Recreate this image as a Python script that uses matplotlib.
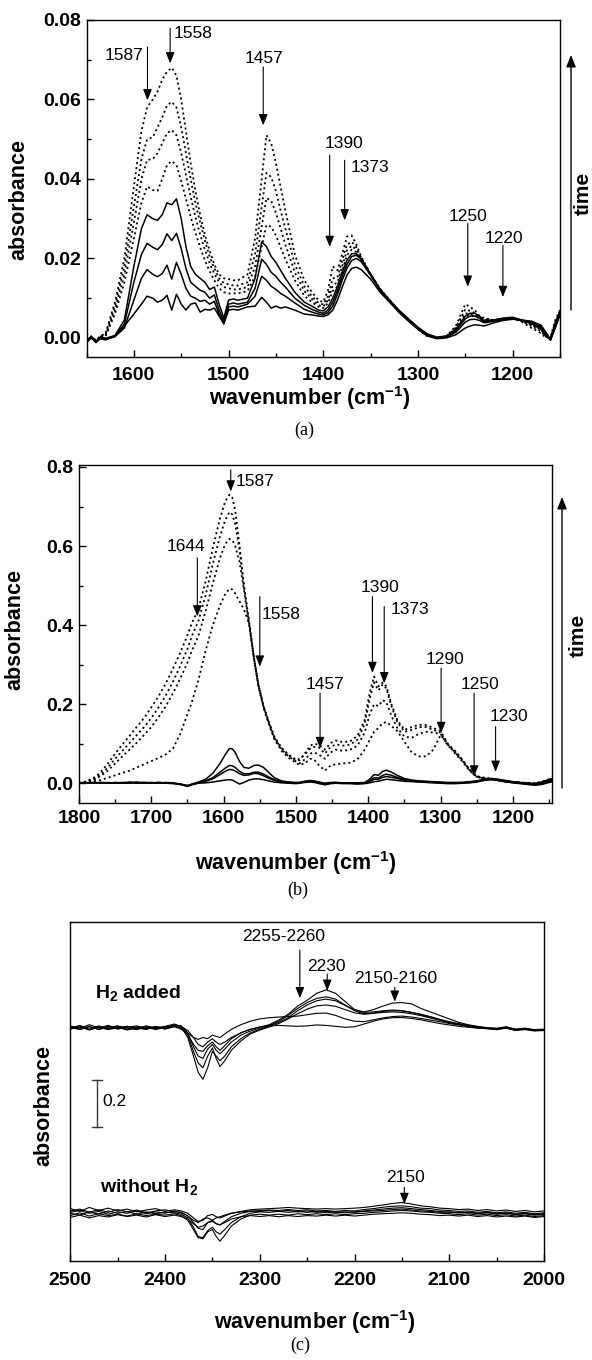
import matplotlib
matplotlib.use("Agg")
import matplotlib.pyplot as plt
from matplotlib.ticker import MultipleLocator, FormatStrFormatter

# ── Style ─────────────────────────────────────────────────────────────────────
plt.rcParams.update({
    "font.family":       ["Liberation Sans", "DejaVu Sans"],
    "font.weight":       "bold",
    "mathtext.default":  "regular",
    "axes.linewidth":    1.0,
    "xtick.direction":   "in",
    "ytick.direction":   "in",
    "xtick.major.width": 1.0,
    "ytick.major.width": 1.0,
    "xtick.minor.width": 1.0,
    "ytick.minor.width": 1.0,
})

W, H = 592, 1360

# ── Data: panel (a) ──────────────────────────────────────────────────────────
XA = [1650, 1645, 1640, 1635, 1630, 1620, 1610, 1600, 1592, 1586,
      1580, 1575, 1570, 1565, 1560, 1555, 1550, 1545, 1540, 1535,
      1530, 1525, 1520, 1515, 1510, 1505, 1500, 1495, 1490, 1480,
      1472, 1465, 1460, 1455, 1450, 1445, 1440, 1430, 1420, 1412,
      1405, 1400, 1395, 1390, 1385, 1380, 1375, 1370, 1365, 1360,
      1350, 1340, 1330, 1320, 1310, 1300, 1290, 1280, 1270, 1260,
      1250, 1245, 1240, 1235, 1230, 1220, 1210, 1200, 1190, 1180,
      1170, 1165, 1160, 1155, 1150]

A_SOLID1 = [-0.0008, 0.0004, -0.0010, 0.0003, -0.0001, 0.0006, 0.0045, 0.0180, 0.0275, 0.0310,
            0.0300, 0.0296, 0.0310, 0.0340, 0.0335, 0.0350, 0.0300, 0.0230, 0.0180, 0.0160,
            0.0150, 0.0140, 0.0122, 0.0128, 0.0085, 0.0050, 0.0095, 0.0098, 0.0095, 0.0100,
            0.0150, 0.0242, 0.0230, 0.0205, 0.0190, 0.0170, 0.0150, 0.0115, 0.0090, 0.0080,
            0.0070, 0.0068, 0.0078, 0.0100, 0.0130, 0.0165, 0.0195, 0.0212, 0.0212, 0.0200,
            0.0160, 0.0122, 0.0095, 0.0070, 0.0048, 0.0027, 0.0010, 0.0002, 0.0005, 0.0022,
            0.0055, 0.0062, 0.0062, 0.0055, 0.0042, 0.0045, 0.0050, 0.0052, 0.0045, 0.0036,
            0.0022, 0.0005, -0.0003, 0.0035, 0.0068]
A_SOLID2 = [-0.0006, 0.0002, -0.0012, 0.0002, -0.0003, 0.0004, 0.0035, 0.0140, 0.0210, 0.0238,
            0.0228, 0.0222, 0.0235, 0.0262, 0.0245, 0.0263, 0.0225, 0.0175, 0.0140, 0.0130,
            0.0120, 0.0115, 0.0100, 0.0108, 0.0070, 0.0042, 0.0085, 0.0088, 0.0085, 0.0090,
            0.0125, 0.0198, 0.0185, 0.0165, 0.0155, 0.0140, 0.0128, 0.0100, 0.0082, 0.0072,
            0.0065, 0.0062, 0.0070, 0.0090, 0.0120, 0.0155, 0.0185, 0.0205, 0.0208, 0.0198,
            0.0160, 0.0120, 0.0094, 0.0068, 0.0046, 0.0025, 0.0008, 0.0000, 0.0003, 0.0018,
            0.0048, 0.0055, 0.0055, 0.0050, 0.0040, 0.0045, 0.0048, 0.0050, 0.0043, 0.0038,
            0.0025, 0.0008, -0.0005, 0.0030, 0.0062]
A_SOLID3 = [-0.0010, 0.0003, -0.0008, 0.0000, -0.0004, 0.0003, 0.0025, 0.0095, 0.0150, 0.0172,
            0.0160, 0.0154, 0.0162, 0.0183, 0.0148, 0.0190, 0.0160, 0.0125, 0.0105, 0.0100,
            0.0092, 0.0095, 0.0085, 0.0092, 0.0060, 0.0038, 0.0078, 0.0080, 0.0078, 0.0085,
            0.0105, 0.0155, 0.0145, 0.0130, 0.0122, 0.0112, 0.0105, 0.0088, 0.0072, 0.0065,
            0.0060, 0.0058, 0.0064, 0.0080, 0.0110, 0.0145, 0.0175, 0.0195, 0.0200, 0.0192,
            0.0158, 0.0120, 0.0093, 0.0066, 0.0044, 0.0024, 0.0007, -0.0001, 0.0002, 0.0014,
            0.0040, 0.0046, 0.0047, 0.0044, 0.0038, 0.0042, 0.0046, 0.0048, 0.0044, 0.0040,
            0.0028, 0.0010, -0.0006, 0.0028, 0.0060]
A_SOLID4 = [-0.0012, 0.0000, -0.0010, -0.0002, -0.0005, 0.0005, 0.0030, 0.0060, 0.0085, 0.0105,
            0.0100, 0.0090, 0.0095, 0.0107, 0.0070, 0.0110, 0.0085, 0.0070, 0.0085, 0.0088,
            0.0065, 0.0072, 0.0070, 0.0075, 0.0055, 0.0035, 0.0070, 0.0072, 0.0070, 0.0078,
            0.0080, 0.0102, 0.0090, 0.0075, 0.0080, 0.0075, 0.0078, 0.0070, 0.0060, 0.0058,
            0.0055, 0.0054, 0.0058, 0.0070, 0.0095, 0.0128, 0.0158, 0.0175, 0.0178, 0.0172,
            0.0148, 0.0115, 0.0090, 0.0064, 0.0042, 0.0022, 0.0005, -0.0002, 0.0000, 0.0008,
            0.0025, 0.0030, 0.0033, 0.0032, 0.0030, 0.0038, 0.0044, 0.0047, 0.0045, 0.0042,
            0.0032, 0.0015, -0.0004, 0.0025, 0.0058]
A_DOT1 = [-0.0006, 0.0004, -0.0006, 0.0006, 0.0010, 0.0090, 0.0200, 0.0380, 0.0520, 0.0580,
          0.0600, 0.0620, 0.0650, 0.0670, 0.0680, 0.0660, 0.0600, 0.0520, 0.0440, 0.0370,
          0.0310, 0.0260, 0.0220, 0.0185, 0.0160, 0.0150, 0.0148, 0.0145, 0.0145, 0.0160,
          0.0250, 0.0400, 0.0510, 0.0490, 0.0440, 0.0380, 0.0320, 0.0210, 0.0145, 0.0115,
          0.0095, 0.0090, 0.0120, 0.0180, 0.0170, 0.0210, 0.0255, 0.0258, 0.0235, 0.0205,
          0.0160, 0.0124, 0.0096, 0.0068, 0.0046, 0.0022, 0.0004, 0.0000, 0.0004, 0.0030,
          0.0085, 0.0078, 0.0070, 0.0055, 0.0050, 0.0045, 0.0048, 0.0050, 0.0040, 0.0025,
          0.0012, 0.0000, 0.0003, 0.0045, 0.0070]
A_DOT2 = [-0.0007, 0.0003, -0.0008, 0.0005, 0.0008, 0.0080, 0.0180, 0.0330, 0.0450, 0.0500,
          0.0505, 0.0530, 0.0555, 0.0585, 0.0594, 0.0580, 0.0530, 0.0465, 0.0400, 0.0340,
          0.0290, 0.0245, 0.0205, 0.0175, 0.0150, 0.0138, 0.0135, 0.0132, 0.0132, 0.0140,
          0.0210, 0.0330, 0.0415, 0.0405, 0.0370, 0.0320, 0.0275, 0.0185, 0.0130, 0.0105,
          0.0088, 0.0084, 0.0105, 0.0150, 0.0152, 0.0195, 0.0235, 0.0242, 0.0228, 0.0202,
          0.0160, 0.0123, 0.0095, 0.0068, 0.0046, 0.0023, 0.0005, 0.0000, 0.0004, 0.0026,
          0.0072, 0.0068, 0.0063, 0.0052, 0.0047, 0.0045, 0.0048, 0.0050, 0.0042, 0.0030,
          0.0016, 0.0003, 0.0000, 0.0040, 0.0068]
A_DOT3 = [-0.0008, 0.0003, -0.0009, 0.0004, 0.0006, 0.0070, 0.0160, 0.0290, 0.0400, 0.0448,
          0.0450, 0.0465, 0.0490, 0.0515, 0.0523, 0.0510, 0.0465, 0.0410, 0.0355, 0.0305,
          0.0260, 0.0222, 0.0188, 0.0162, 0.0140, 0.0128, 0.0125, 0.0122, 0.0122, 0.0128,
          0.0180, 0.0280, 0.0352, 0.0345, 0.0315, 0.0275, 0.0235, 0.0165, 0.0118, 0.0098,
          0.0082, 0.0079, 0.0095, 0.0132, 0.0140, 0.0180, 0.0220, 0.0232, 0.0222, 0.0200,
          0.0160, 0.0122, 0.0094, 0.0067, 0.0045, 0.0023, 0.0005, 0.0000, 0.0003, 0.0022,
          0.0062, 0.0060, 0.0058, 0.0050, 0.0045, 0.0045, 0.0047, 0.0050, 0.0043, 0.0033,
          0.0020, 0.0005, -0.0002, 0.0036, 0.0065]
A_DOT4 = [-0.0009, 0.0002, -0.0010, 0.0003, 0.0004, 0.0060, 0.0140, 0.0250, 0.0340, 0.0381,
          0.0372, 0.0370, 0.0400, 0.0435, 0.0445, 0.0435, 0.0395, 0.0350, 0.0305, 0.0265,
          0.0228, 0.0195, 0.0168, 0.0145, 0.0125, 0.0115, 0.0112, 0.0112, 0.0112, 0.0118,
          0.0155, 0.0230, 0.0284, 0.0280, 0.0258, 0.0228, 0.0198, 0.0145, 0.0106, 0.0090,
          0.0078, 0.0075, 0.0088, 0.0118, 0.0130, 0.0168, 0.0208, 0.0222, 0.0216, 0.0196,
          0.0158, 0.0121, 0.0093, 0.0066, 0.0045, 0.0023, 0.0006, 0.0000, 0.0003, 0.0020,
          0.0055, 0.0057, 0.0055, 0.0049, 0.0044, 0.0044, 0.0047, 0.0049, 0.0044, 0.0035,
          0.0022, 0.0006, -0.0003, 0.0033, 0.0063]

# ── Data: panel (b) ──────────────────────────────────────────────────────────
XB = [1800, 1790, 1780, 1770, 1760, 1750, 1740, 1730, 1720, 1710,
      1700, 1690, 1680, 1670, 1660, 1650, 1644, 1635, 1625, 1615,
      1605, 1598, 1592, 1588, 1584, 1578, 1572, 1565, 1558, 1552,
      1545, 1538, 1530, 1520, 1510, 1500, 1495, 1488, 1480, 1475,
      1468, 1460, 1452, 1445, 1435, 1425, 1415, 1405, 1398, 1392,
      1386, 1380, 1375, 1368, 1360, 1350, 1340, 1330, 1320, 1310,
      1300, 1290, 1280, 1270, 1260, 1250, 1240, 1230, 1220, 1210,
      1200, 1190, 1180, 1170, 1160, 1150, 1145]

B_DOT1 = [0.000, 0.005, 0.013, 0.028, 0.050, 0.075, 0.098, 0.120, 0.143, 0.165,
          0.192, 0.220, 0.253, 0.290, 0.330, 0.375, 0.405, 0.440, 0.510, 0.595,
          0.670, 0.712, 0.730, 0.722, 0.690, 0.600, 0.500, 0.410, 0.315, 0.248,
          0.195, 0.158, 0.118, 0.090, 0.072, 0.060, 0.058, 0.075, 0.095, 0.100,
          0.097, 0.085, 0.102, 0.108, 0.104, 0.106, 0.120, 0.160, 0.230, 0.270,
          0.245, 0.255, 0.245, 0.200, 0.160, 0.135, 0.142, 0.148, 0.147, 0.140,
          0.132, 0.100, 0.082, 0.060, 0.035, 0.018, 0.014, 0.012, 0.008, 0.004,
          0.003, 0.002, 0.001, 0.000, 0.004, 0.010, 0.012]
B_DOT2 = [0.000, 0.004, 0.010, 0.022, 0.040, 0.062, 0.082, 0.102, 0.122, 0.142,
          0.165, 0.192, 0.222, 0.257, 0.297, 0.340, 0.372, 0.410, 0.475, 0.555,
          0.625, 0.665, 0.686, 0.680, 0.655, 0.590, 0.500, 0.410, 0.315, 0.250,
          0.196, 0.156, 0.116, 0.088, 0.070, 0.058, 0.062, 0.072, 0.088, 0.092,
          0.090, 0.075, 0.092, 0.098, 0.095, 0.098, 0.110, 0.150, 0.215, 0.255,
          0.235, 0.250, 0.240, 0.195, 0.155, 0.130, 0.135, 0.142, 0.142, 0.135,
          0.128, 0.098, 0.080, 0.058, 0.034, 0.017, 0.013, 0.011, 0.007, 0.004,
          0.002, 0.001, 0.000, -0.001, 0.003, 0.009, 0.011]
B_DOT3 = [0.000, 0.003, 0.008, 0.018, 0.032, 0.050, 0.068, 0.085, 0.103, 0.122,
          0.142, 0.167, 0.195, 0.228, 0.265, 0.305, 0.335, 0.372, 0.435, 0.505,
          0.570, 0.605, 0.618, 0.615, 0.600, 0.560, 0.490, 0.405, 0.315, 0.250,
          0.195, 0.155, 0.115, 0.086, 0.068, 0.055, 0.050, 0.060, 0.075, 0.078,
          0.072, 0.062, 0.078, 0.085, 0.082, 0.085, 0.095, 0.128, 0.175, 0.200,
          0.195, 0.210, 0.205, 0.170, 0.140, 0.118, 0.115, 0.125, 0.130, 0.128,
          0.125, 0.095, 0.078, 0.057, 0.033, 0.016, 0.012, 0.010, 0.007, 0.003,
          0.002, 0.001, 0.000, -0.001, 0.003, 0.008, 0.010]
B_DOT4 = [0.000, 0.002, 0.005, 0.008, 0.014, 0.020, 0.026, 0.032, 0.040, 0.048,
          0.056, 0.064, 0.073, 0.088, 0.125, 0.175, 0.205, 0.260, 0.335, 0.400,
          0.450, 0.478, 0.492, 0.490, 0.480, 0.460, 0.440, 0.405, 0.315, 0.245,
          0.192, 0.152, 0.112, 0.082, 0.064, 0.052, 0.046, 0.050, 0.062, 0.060,
          0.045, 0.032, 0.045, 0.048, 0.050, 0.052, 0.060, 0.085, 0.110, 0.130,
          0.140, 0.152, 0.155, 0.145, 0.132, 0.105, 0.078, 0.068, 0.068, 0.085,
          0.122, 0.098, 0.075, 0.055, 0.032, 0.016, 0.012, 0.010, 0.007, 0.004,
          0.002, 0.001, 0.001, 0.000, 0.003, 0.008, 0.010]
B_SOLID1 = [0.001, 0.000, 0.002, 0.001, 0.000, 0.002, 0.001, 0.003, 0.001, 0.002,
            0.000, 0.002, 0.001, 0.000, -0.002, -0.006, -0.002, 0.003, 0.010, 0.025,
            0.050, 0.072, 0.088, 0.087, 0.078, 0.055, 0.040, 0.038, 0.045, 0.046,
            0.040, 0.028, 0.014, 0.006, 0.003, 0.002, 0.002, 0.005, 0.007, 0.006,
            0.003, 0.000, 0.002, 0.002, 0.001, 0.000, 0.001, 0.002, 0.010, 0.022,
            0.020, 0.030, 0.033, 0.028, 0.020, 0.012, 0.008, 0.006, 0.005, 0.004,
            0.003, 0.002, 0.002, 0.002, 0.004, 0.006, 0.010, 0.012, 0.010, 0.007,
            0.004, 0.002, 0.000, -0.002, 0.002, 0.010, 0.012]
B_SOLID2 = [0.000, 0.002, 0.000, 0.002, 0.001, 0.000, 0.002, 0.001, 0.003, 0.001,
            0.002, 0.000, 0.002, 0.001, -0.003, -0.007, -0.003, 0.002, 0.006, 0.014,
            0.028, 0.038, 0.045, 0.044, 0.040, 0.030, 0.024, 0.024, 0.028, 0.028,
            0.023, 0.016, 0.009, 0.004, 0.002, 0.001, 0.002, 0.004, 0.006, 0.005,
            0.002, -0.001, 0.001, 0.002, 0.000, 0.001, 0.000, 0.001, 0.006, 0.014,
            0.013, 0.020, 0.023, 0.020, 0.015, 0.010, 0.007, 0.005, 0.004, 0.003,
            0.002, 0.001, 0.001, 0.002, 0.003, 0.005, 0.009, 0.011, 0.009, 0.006,
            0.003, 0.001, -0.001, -0.003, 0.000, 0.006, 0.008]
B_SOLID3 = [0.002, 0.001, 0.000, 0.002, 0.000, 0.001, 0.000, 0.002, 0.000, 0.002,
            0.001, 0.000, 0.001, 0.000, -0.002, -0.006, -0.003, 0.001, 0.005, 0.011,
            0.022, 0.030, 0.035, 0.034, 0.031, 0.024, 0.020, 0.021, 0.025, 0.024,
            0.019, 0.013, 0.007, 0.003, 0.001, 0.000, 0.001, 0.003, 0.005, 0.004,
            0.001, -0.002, 0.000, 0.001, 0.000, 0.000, -0.001, 0.000, 0.004, 0.010,
            0.010, 0.015, 0.017, 0.015, 0.012, 0.008, 0.006, 0.004, 0.003, 0.002,
            0.001, 0.000, 0.000, 0.001, 0.002, 0.004, 0.008, 0.010, 0.008, 0.005,
            0.002, 0.000, -0.002, -0.004, -0.002, 0.004, 0.006]
B_SOLID4 = [0.000, 0.001, 0.002, 0.000, 0.002, 0.000, 0.001, 0.000, 0.002, 0.000,
            0.001, 0.002, 0.000, -0.001, -0.003, -0.008, -0.004, 0.000, 0.001, 0.003,
            0.006, 0.008, 0.009, 0.008, 0.004, -0.002, 0.002, 0.008, 0.011, 0.011,
            0.009, 0.006, 0.003, 0.001, 0.000, -0.001, 0.000, 0.002, 0.003, 0.002,
            -0.001, -0.004, -0.001, 0.000, -0.001, -0.001, -0.002, -0.001, 0.001, 0.004,
            0.005, 0.008, 0.010, 0.009, 0.007, 0.005, 0.004, 0.003, 0.002, 0.001,
            0.000, -0.001, -0.001, 0.000, 0.001, 0.003, 0.007, 0.009, 0.007, 0.004,
            0.001, -0.001, -0.003, -0.005, -0.003, 0.002, 0.004]

# ── Data: panel (c) (absorbance change, each group drawn on its own offset) ──
XC = [2500, 2490, 2480, 2470, 2460, 2450, 2440, 2430, 2420, 2410,
      2400, 2390, 2383, 2376, 2370, 2365, 2360, 2355, 2350, 2346,
      2342, 2337, 2330, 2320, 2310, 2300, 2290, 2280, 2270, 2260,
      2250, 2240, 2230, 2220, 2210, 2200, 2190, 2180, 2170, 2160,
      2150, 2140, 2130, 2120, 2110, 2100, 2090, 2080, 2070, 2060,
      2050, 2040, 2030, 2020, 2010, 2000]

H2_1 = [0.010, 0.000, 0.015, 0.002, 0.012, -0.002, 0.008, 0.000, 0.010, 0.002,
        0.006, 0.012, 0.008, -0.010, -0.040, -0.070, -0.080, -0.060, -0.045, -0.060,
        -0.070, -0.060, -0.040, -0.020, -0.005, 0.005, 0.015, 0.035, 0.060, 0.095,
        0.120, 0.150, 0.165, 0.150, 0.115, 0.080, 0.070, 0.080, 0.095, 0.108,
        0.110, 0.105, 0.085, 0.070, 0.055, 0.040, 0.025, 0.015, 0.008, 0.002,
        0.000, 0.006, -0.004, 0.000, -0.006, -0.004]
H2_2 = [0.000, 0.012, -0.004, 0.010, -0.002, 0.008, -0.005, 0.006, -0.004, 0.008,
        0.000, 0.015, 0.010, -0.020, -0.080, -0.120, -0.130, -0.090, -0.070, -0.095,
        -0.110, -0.090, -0.060, -0.030, -0.012, 0.000, 0.012, 0.030, 0.055, 0.085,
        0.110, 0.128, 0.135, 0.125, 0.100, 0.075, 0.062, 0.065, 0.072, 0.075,
        0.074, 0.068, 0.060, 0.050, 0.038, 0.028, 0.020, 0.012, 0.006, 0.002,
        -0.002, 0.004, -0.006, -0.002, -0.008, -0.006]
H2_3 = [0.006, -0.004, 0.008, -0.006, 0.004, 0.010, 0.000, -0.006, 0.004, -0.002,
        0.008, 0.018, 0.005, -0.040, -0.120, -0.190, -0.220, -0.170, -0.100, -0.120,
        -0.140, -0.120, -0.080, -0.045, -0.020, -0.005, 0.010, 0.025, 0.045, 0.075,
        0.100, 0.118, 0.125, 0.118, 0.098, 0.078, 0.068, 0.070, 0.075, 0.078,
        0.076, 0.068, 0.058, 0.046, 0.036, 0.025, 0.016, 0.010, 0.004, 0.000,
        -0.004, 0.002, -0.008, -0.004, -0.010, -0.008]
H2_4 = [-0.004, 0.006, -0.008, 0.004, -0.006, 0.002, 0.008, -0.004, 0.006, -0.006,
        0.004, 0.010, 0.000, -0.030, -0.100, -0.150, -0.170, -0.120, -0.085, -0.130,
        -0.165, -0.140, -0.095, -0.055, -0.025, -0.008, 0.005, 0.020, 0.040, 0.062,
        0.082, 0.096, 0.100, 0.094, 0.080, 0.066, 0.060, 0.064, 0.068, 0.070,
        0.068, 0.062, 0.054, 0.044, 0.034, 0.024, 0.016, 0.008, 0.002, -0.002,
        -0.006, 0.000, -0.010, -0.006, -0.012, -0.010]
H2_5 = [0.004, -0.006, 0.006, -0.004, 0.008, -0.004, 0.004, 0.010, -0.002, 0.004,
        -0.002, 0.008, 0.000, -0.020, -0.040, -0.048, -0.040, -0.045, -0.030, -0.035,
        -0.040, -0.025, -0.005, 0.015, 0.030, 0.040, 0.045, 0.048, 0.050, 0.052,
        0.058, 0.064, 0.065, 0.055, 0.040, 0.030, 0.028, 0.036, 0.044, 0.050,
        0.052, 0.048, 0.042, 0.035, 0.028, 0.020, 0.014, 0.008, 0.004, 0.000,
        -0.003, 0.004, -0.006, -0.002, -0.008, -0.006]
H2_6 = [-0.002, 0.008, -0.006, 0.006, -0.004, 0.004, -0.008, 0.002, -0.006, 0.006,
        -0.004, 0.006, -0.004, -0.025, -0.070, -0.095, -0.100, -0.075, -0.060, -0.080,
        -0.095, -0.075, -0.045, -0.020, -0.005, 0.005, 0.010, 0.012, 0.010, 0.008,
        0.010, 0.014, 0.012, 0.008, 0.004, 0.006, 0.018, 0.030, 0.040, 0.045,
        0.046, 0.042, 0.036, 0.028, 0.020, 0.014, 0.008, 0.004, 0.000, -0.002,
        -0.006, 0.002, -0.008, -0.004, -0.010, -0.008]

NOH2_1 = [0.020, 0.008, 0.025, 0.012, 0.022, 0.010, 0.018, 0.006, 0.014, 0.020,
          0.008, 0.015, 0.010, 0.000, -0.020, -0.035, -0.030, -0.010, -0.005, -0.015,
          -0.020, -0.012, 0.000, 0.008, 0.015, 0.018, 0.020, 0.022, 0.025, 0.022,
          0.020, 0.018, 0.020, 0.018, 0.020, 0.022, 0.025, 0.030, 0.036, 0.042,
          0.046, 0.040, 0.032, 0.028, 0.022, 0.020, 0.016, 0.018, 0.012, 0.016,
          0.010, 0.014, 0.008, 0.012, 0.006, 0.010]
NOH2_2 = [0.010, 0.018, 0.005, 0.015, 0.004, 0.016, 0.006, 0.014, 0.002, 0.010,
          0.015, 0.006, 0.004, -0.010, -0.040, -0.065, -0.070, -0.040, -0.030, -0.045,
          -0.050, -0.035, -0.015, 0.000, 0.008, 0.012, 0.014, 0.012, 0.016, 0.012,
          0.015, 0.010, 0.012, 0.008, 0.012, 0.010, 0.016, 0.020, 0.026, 0.030,
          0.032, 0.028, 0.022, 0.020, 0.014, 0.012, 0.008, 0.010, 0.004, 0.008,
          0.002, 0.006, 0.000, 0.004, -0.002, 0.002]
NOH2_3 = [0.000, -0.008, 0.006, -0.004, 0.010, 0.000, 0.008, -0.004, 0.006, -0.002,
          0.005, 0.002, -0.004, -0.020, -0.060, -0.100, -0.105, -0.075, -0.060, -0.080,
          -0.090, -0.070, -0.040, -0.015, 0.000, 0.006, 0.004, 0.008, 0.004, 0.008,
          0.004, 0.008, 0.002, 0.006, 0.002, 0.006, 0.010, 0.014, 0.018, 0.022,
          0.024, 0.020, 0.016, 0.012, 0.008, 0.004, 0.002, 0.004, -0.002, 0.002,
          -0.004, 0.000, -0.006, -0.002, -0.008, -0.004]
NOH2_4 = [-0.010, 0.002, -0.012, -0.002, -0.010, -0.004, -0.012, -0.002, -0.010, -0.004,
          -0.008, -0.002, -0.010, -0.030, -0.070, -0.105, -0.110, -0.080, -0.070, -0.100,
          -0.120, -0.095, -0.055, -0.025, -0.008, -0.004, -0.008, -0.004, -0.008, -0.002,
          -0.006, -0.002, -0.006, -0.002, -0.006, -0.002, 0.000, 0.004, 0.006, 0.010,
          0.012, 0.010, 0.006, 0.004, 0.000, -0.002, -0.006, -0.002, -0.008, -0.004,
          -0.010, -0.006, -0.012, -0.008, -0.014, -0.010]
NOH2_5 = [-0.018, -0.008, -0.020, -0.010, -0.016, -0.006, -0.014, -0.008, -0.016, -0.006,
          -0.014, -0.008, -0.014, -0.025, -0.045, -0.060, -0.055, -0.040, -0.035, -0.045,
          -0.050, -0.040, -0.025, -0.015, -0.010, -0.014, -0.010, -0.015, -0.010, -0.014,
          -0.010, -0.012, -0.008, -0.012, -0.008, -0.012, -0.008, -0.004, -0.002, 0.000,
          0.002, 0.000, -0.004, -0.006, -0.010, -0.008, -0.012, -0.008, -0.014, -0.010,
          -0.016, -0.012, -0.016, -0.012, -0.018, -0.014]
NOH2_6 = [0.004, 0.012, 0.000, 0.008, -0.004, 0.006, 0.000, 0.010, -0.002, 0.006,
          0.000, 0.010, 0.002, -0.012, -0.030, -0.040, -0.025, -0.020, -0.030, -0.020,
          -0.015, -0.008, 0.000, 0.006, 0.010, 0.008, 0.012, 0.008, 0.012, 0.006,
          0.010, 0.004, 0.008, 0.004, 0.006, 0.004, 0.008, 0.010, 0.012, 0.016,
          0.018, 0.014, 0.010, 0.008, 0.004, 0.006, 0.002, 0.004, 0.000, 0.004,
          -0.002, 0.002, -0.004, 0.000, -0.006, -0.002]

H2_OFFSET, NOH2_OFFSET = 1.0, 0.204

# ── Helpers ───────────────────────────────────────────────────────────────────
DOTTED = (0, (1.1, 1.7))
HEAD = "-|>,head_length=0.55,head_width=0.22"
NOTE_FS = 12.5


def frame(ax, xlim, ylim, xmajor, xminor, pad):
    ax.set_xlim(*xlim)
    ax.set_ylim(*ylim)
    ax.xaxis.set_major_locator(MultipleLocator(xmajor))
    ax.xaxis.set_minor_locator(MultipleLocator(xminor))
    ax.tick_params(which="major", length=5, labelsize=14)
    ax.tick_params(which="minor", length=3)
    ax.tick_params(axis="x", pad=pad)
    ax.tick_params(axis="y", pad=4)


def mark(ax, x, y_top, y_tip, label, tx, ty, ha="center"):
    ax.annotate("", xy=(x, y_tip), xytext=(x, y_top),
                arrowprops=dict(arrowstyle=HEAD, color="black", lw=0.8,
                                shrinkA=0, shrinkB=0, mutation_scale=12))
    ax.text(tx, ty, label, ha=ha, va="center", fontsize=NOTE_FS,
            fontweight="normal")


def time_arrow(ax, x, y0, y1, tx, ty):
    ax.annotate("", xy=(x / W, 1 - y1 / H), xytext=(x / W, 1 - y0 / H),
                xycoords="figure fraction", textcoords="figure fraction",
                arrowprops=dict(arrowstyle=HEAD, color="black", lw=1.0,
                                shrinkA=0, shrinkB=0, mutation_scale=13),
                annotation_clip=False)
    fig.text(tx / W, 1 - ty / H, "time", rotation=90, ha="center",
             va="center", fontsize=15, fontweight="bold")


def fig_label(x, y, s, **kw):
    fig.text(x / W, 1 - y / H, s, ha="center", va="center", **kw)


fig = plt.figure(figsize=(W / 100, H / 100), dpi=100)

# ── Panel (a) ─────────────────────────────────────────────────────────────────
axA = fig.add_axes([86.5 / W, 1 - 357 / H, (560 - 86.5) / W, (357 - 20) / H])
for ys in (A_DOT1, A_DOT2, A_DOT3, A_DOT4):
    axA.plot(XA, ys, color="black", lw=1.3, ls=DOTTED)
for ys in (A_SOLID1, A_SOLID2, A_SOLID3, A_SOLID4):
    axA.plot(XA, ys, color="black", lw=1.1)
frame(axA, (1650, 1150), (-0.0048, 0.08), 100, 50, 7)
axA.yaxis.set_major_locator(MultipleLocator(0.02))
axA.yaxis.set_minor_locator(MultipleLocator(0.01))
axA.yaxis.set_major_formatter(FormatStrFormatter("%.2f"))

mark(axA, 1585.6, 0.0732, 0.0598, "1587", 1589.5, 0.0711, ha="right")
mark(axA, 1561.7, 0.0779, 0.0691, "1558", 1558.5, 0.0766, ha="left")
mark(axA, 1463.4, 0.0682, 0.0535, "1457", 1462.3, 0.0702)
mark(axA, 1393.2, 0.0460, 0.0229, "1390", 1378.4, 0.0489)
mark(axA, 1377.4, 0.0447, 0.0296, "1373", 1371.0, 0.0428, ha="left")
mark(axA, 1247.4, 0.0288, 0.0129, "1250", 1247.3, 0.0306)
mark(axA, 1210.3, 0.0233, 0.0103, "1220", 1209.0, 0.0251)
time_arrow(axA, 571, 310, 55, 583, 193)

fig_label(19, 200, "absorbance", rotation=90, fontsize=15.5, fontweight="bold")
fig_label(310, 398, r"wavenumber (cm$^{-1}$)", fontsize=15.5, fontweight="bold")
fig_label(304, 430, "(a)", fontsize=13, fontweight="normal",
          family="Liberation Serif")

# ── Panel (b) ─────────────────────────────────────────────────────────────────
axB = fig.add_axes([79 / W, 1 - 803 / H, (552 - 79) / W, (803 - 465) / H])
for ys in (B_DOT1, B_DOT2, B_DOT3, B_DOT4):
    axB.plot(XB, ys, color="black", lw=1.3, ls=DOTTED)
for ys in (B_SOLID1, B_SOLID2, B_SOLID3, B_SOLID4):
    axB.plot(XB, ys, color="black", lw=1.1)
frame(axB, (1800, 1146), (-0.05, 0.805), 100, 50, 5)
axB.yaxis.set_major_locator(MultipleLocator(0.2))
axB.yaxis.set_minor_locator(MultipleLocator(0.1))
axB.yaxis.set_major_formatter(FormatStrFormatter("%.1f"))

mark(axB, 1590.2, 0.793, 0.738, "1587", 1583.0, 0.762, ha="left")
mark(axB, 1636.4, 0.570, 0.422, "1644", 1651.6, 0.599)
mark(axB, 1550.0, 0.472, 0.295, "1558", 1547.0, 0.426, ha="left")
mark(axB, 1466.7, 0.228, 0.089, "1457", 1459.7, 0.249)
mark(axB, 1394.3, 0.472, 0.279, "1390", 1384.4, 0.494)
mark(axB, 1378.0, 0.447, 0.253, "1373", 1368.5, 0.439, ha="left")
mark(axB, 1299.3, 0.291, 0.127, "1290", 1293.8, 0.312)
mark(axB, 1253.7, 0.228, 0.017, "1250", 1245.4, 0.249)
mark(axB, 1224.0, 0.143, 0.029, "1230", 1206.0, 0.169)
time_arrow(axB, 562, 788, 497, 578, 635)

fig_label(15, 630, "absorbance", rotation=90, fontsize=15.5, fontweight="bold")
fig_label(296, 863, r"wavenumber (cm$^{-1}$)", fontsize=15.5, fontweight="bold")
fig_label(298, 890, "(b)", fontsize=13, fontweight="normal",
          family="Liberation Serif")

# ── Panel (c) ─────────────────────────────────────────────────────────────────
axC = fig.add_axes([70.3 / W, 1 - 1260.7 / H, (544 - 70.3) / W, (1260.7 - 921.7) / H])
for ys in (H2_1, H2_2, H2_3, H2_4, H2_5, H2_6):
    axC.plot(XC, [H2_OFFSET + v for v in ys], color="black", lw=0.8)
for ys in (NOH2_1, NOH2_2, NOH2_3, NOH2_4, NOH2_5, NOH2_6):
    axC.plot(XC, [NOH2_OFFSET + v for v in ys], color="black", lw=0.8)
frame(axC, (2500, 2000), (0, 1.458), 100, 50, 8)
axC.set_yticks([])

mark(axC, 2257.7, 1.336, 1.129, "2255-2260", 2274.9, 1.394)
mark(axC, 2228.8, 1.233, 1.161, "2230", 2229.2, 1.265)
mark(axC, 2157.5, 1.176, 1.114, "2150-2160", 2156.7, 1.212)
mark(axC, 2147.4, 0.316, 0.244, "2150", 2146.6, 0.357)
axC.text(2474, 1.153, r"H$_2$ added", ha="left", va="center", fontsize=14,
         fontweight="bold")
axC.text(2469, 0.318, r"without H$_2$", ha="left", va="center", fontsize=14,
         fontweight="bold")

# 0.2 absorbance scale bar
axC.plot([2472, 2472], [0.576, 0.777], color="#333333", lw=1.0)
axC.plot([2477, 2467], [0.576, 0.576], color="#333333", lw=1.0)
axC.plot([2477, 2467], [0.777, 0.777], color="#333333", lw=1.0)
axC.text(2466, 0.684, "0.2", ha="left", va="center", fontsize=NOTE_FS,
         fontweight="normal")

fig_label(44, 1105, "absorbance", rotation=90, fontsize=15.5, fontweight="bold")
fig_label(315, 1322, r"wavenumber (cm$^{-1}$)", fontsize=15.5, fontweight="bold")
fig_label(300, 1345, "(c)", fontsize=13, fontweight="normal",
          family="Liberation Serif")

fig.savefig("out.png", dpi=100)
